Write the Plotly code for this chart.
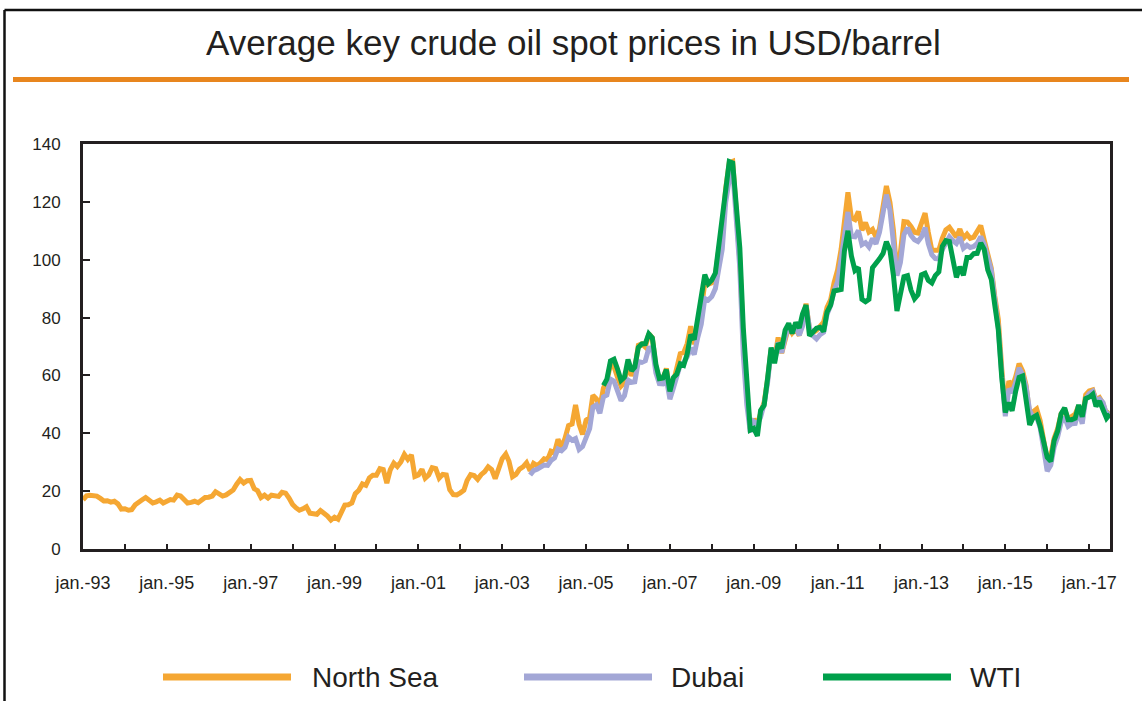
import pandas as pd
import plotly.graph_objects as go

# ---------------- data (monthly averages, USD/barrel) ----------------
series_names = ["North Sea", "Dubai", "WTI"]
series_colors = ["#F5A733", "#A3A7D6", "#00A04B"]

north_sea_start = "1993-01-01"
north_sea = [
    17.0, 18.4, 18.6, 18.6, 18.3, 17.5, 16.6, 16.7, 16.2, 16.5, 15.6, 13.8,
    13.9, 13.4, 13.6, 15.3, 16.4, 17.0, 17.8, 16.8, 15.9, 16.3, 16.9, 15.9,
    16.6, 17.1, 16.9, 18.6, 18.3, 17.2, 15.9, 16.1, 16.5, 16.0, 16.8, 17.8,
    17.9, 18.3, 19.8, 19.2, 18.3, 18.7, 19.6, 20.4, 22.4, 24.0, 22.8, 23.6,
    23.7, 20.8, 20.2, 17.8, 18.6, 17.6, 18.6, 18.4, 18.2, 19.6, 19.3, 17.6,
    15.4, 14.2, 13.4, 13.9, 14.6, 12.4, 12.2, 12.0, 13.3, 12.6, 11.4, 10.0,
    11.0, 10.3, 12.5, 15.2, 15.3, 15.9, 19.1, 20.3, 22.5, 22.0, 24.6, 25.5,
    25.5, 27.8, 27.5, 22.8, 27.4, 29.7, 28.5, 30.1, 32.7, 31.0, 32.5, 25.1,
    25.6, 27.5, 24.5, 25.6, 28.1, 27.8, 24.5, 25.8, 25.6, 20.5, 18.8, 18.7,
    19.4, 20.3, 23.7, 25.7, 25.4, 24.1, 25.7, 26.7, 28.4, 27.5, 24.3, 28.2,
    31.2, 32.8, 30.3, 25.0, 25.8, 27.6, 28.4, 29.8, 27.1, 29.6, 28.8, 29.8,
    31.2, 30.9, 33.8, 33.4, 37.9, 35.2, 38.2, 42.7, 43.2, 49.8, 43.1, 39.6,
    44.5, 45.5, 53.1, 51.9, 49.0, 55.6, 57.9, 63.9, 63.0, 59.4, 56.3, 57.6,
    63.9, 59.9, 62.3, 70.4, 70.9, 69.8, 74.4, 73.0, 62.8, 58.5, 58.9, 62.4,
    54.6, 57.8, 62.4, 67.5, 67.9, 71.0, 77.0, 70.8, 77.0, 82.5, 92.1, 91.5,
    92.0, 94.8, 103.3, 110.4, 124.6, 133.5, 134.0, 114.6, 99.6, 72.8, 53.2, 41.6,
    44.9, 43.2, 46.8, 50.8, 58.6, 69.3, 65.8, 73.1, 67.7, 73.2, 77.0, 74.7,
    76.2, 73.8, 78.8, 84.8, 75.9, 74.8, 75.6, 77.1, 78.4, 83.5, 86.1, 92.0,
    96.5, 103.7, 114.6, 123.3, 114.5, 113.9, 116.7, 110.2, 112.8, 109.6, 110.5, 107.9,
    110.7, 119.3, 125.5, 119.8, 110.3, 95.2, 102.6, 113.2, 113.0, 111.5, 109.5, 109.2,
    112.3, 116.1, 109.5, 103.3, 103.3, 103.3, 107.4, 110.3, 111.2, 109.5, 107.8, 110.6,
    107.4, 108.8, 107.4, 107.8, 109.7, 111.8, 106.8, 101.6, 97.1, 87.4, 79.4, 62.3,
    47.8, 58.1, 55.9, 59.5, 64.1, 61.5, 56.6, 46.5, 47.6, 48.4, 44.3, 38.0,
    30.7, 32.2, 38.2, 41.6, 46.7, 48.3, 44.9, 45.8, 46.6, 49.5, 44.7, 53.3,
    54.6, 55.0, 51.6, 52.3, 50.3, 46.4, 47.5,
]

dubai_start = "2003-09-01"
dubai = [
    25.6, 27.1, 27.6, 28.1,
    29.0, 28.9, 30.6, 31.5, 34.6, 34.0, 35.1, 38.7, 37.6, 38.2, 34.4, 35.4,
    39.0, 41.6, 49.1, 49.8, 46.9, 52.6, 53.2, 58.7, 58.0, 54.4, 51.3, 53.0,
    58.4, 57.6, 57.8, 64.8, 64.5, 65.1, 69.4, 69.6, 60.9, 57.2, 57.1, 58.9,
    51.8, 55.7, 59.0, 63.7, 64.4, 66.5, 69.5, 67.2, 73.2, 77.7, 86.6, 86.1,
    87.3, 90.0, 96.7, 103.6, 119.8, 127.8, 131.2, 113.2, 96.9, 67.3, 49.9, 40.5,
    44.1, 43.1, 45.6, 50.1, 57.5, 68.9, 65.0, 71.4, 67.9, 73.1, 76.9, 75.4,
    76.7, 73.9, 77.0, 84.0, 76.5, 73.7, 72.6, 74.1, 74.9, 81.1, 84.2, 89.2,
    92.4, 100.4, 108.8, 116.5, 108.1, 107.9, 110.1, 105.2, 105.9, 104.4, 107.3, 105.5,
    109.5, 116.2, 122.5, 117.1, 107.5, 94.5, 99.0, 108.7, 111.0, 108.4, 106.9, 106.3,
    107.9, 111.1, 105.6, 101.7, 100.4, 100.3, 103.5, 106.2, 107.9, 106.6, 105.6, 107.8,
    104.0, 105.0, 104.2, 104.6, 105.6, 108.0, 105.3, 100.8, 96.3, 86.4, 76.4, 60.2,
    45.9, 55.4, 54.0, 57.5, 62.6, 60.2, 56.0, 47.8, 45.4, 45.7, 41.8, 34.6,
    26.9, 29.0, 35.2, 38.8, 43.8, 45.5, 42.4, 43.3, 43.4, 47.9, 43.3, 51.9,
    53.7, 54.5, 51.4, 51.9, 50.6, 46.5, 47.0,
]

wti_start = "2005-06-01"
wti = [
    56.5, 58.7, 65.0, 65.6, 62.3, 58.3, 59.4,
    65.5, 61.6, 62.9, 69.7, 70.9, 71.0, 74.4, 73.0, 63.8, 58.9, 59.1, 62.0,
    54.5, 59.3, 60.4, 64.0, 63.5, 67.5, 74.1, 72.4, 79.9, 85.8, 94.8, 91.7,
    93.0, 95.4, 105.5, 112.6, 125.4, 133.9, 133.4, 116.7, 104.1, 76.6, 57.3, 41.1,
    41.7, 39.1, 47.9, 49.7, 59.0, 69.6, 64.2, 71.1, 69.4, 75.7, 78.0, 74.5,
    78.3, 76.4, 81.2, 84.3, 73.7, 75.3, 76.3, 76.6, 75.2, 81.9, 84.3, 89.2,
    89.6, 89.7, 102.9, 110.0, 101.3, 96.3, 97.3, 86.3, 85.5, 86.3, 97.2, 98.6,
    100.3, 102.2, 106.2, 103.3, 94.7, 82.3, 87.9, 94.1, 94.5, 89.5, 86.5, 87.9,
    94.8, 95.3, 92.9, 92.0, 94.5, 95.8, 104.6, 106.6, 106.3, 100.5, 93.9, 97.6,
    94.6, 100.8, 100.8, 102.1, 102.2, 105.8, 103.6, 96.5, 93.2, 84.4, 75.8, 59.3,
    47.2, 50.6, 47.8, 54.5, 59.3, 59.8, 50.9, 42.9, 45.5, 46.2, 42.4, 37.2,
    31.7, 30.3, 37.5, 40.8, 46.7, 48.8, 44.7, 44.7, 45.2, 49.8, 45.7, 52.0,
    52.5, 53.5, 49.3, 51.1, 48.5, 45.2, 46.6,
]

tick_years = list(range(1993, 2018))
tick_labels = [f"jan.-{y % 100:02d}" if (y - 1993) % 2 == 0 else "" for y in tick_years]
y_ticks = [0, 20, 40, 60, 80, 100, 120, 140]
title_text = "Average key crude oil spot prices in USD/barrel"

# ---------------- figure ----------------
W, H = 1142, 701
L, R, T, B = 83, 32, 144, 152
PW, PH = W - L - R, H - T - B

def px(x):
    return (x - L) / PW

def py(y):
    return (H - B - y) / PH

FONT = "Liberation Sans Narrow, Arial Narrow, Liberation Sans, Arial, sans-serif"
INK = "#231F20"

fig = go.Figure()
starts = [north_sea_start, dubai_start, wti_start]
values = [north_sea, dubai, wti]
for name, color, start, vals in zip(series_names, series_colors, starts, values):
    dates = pd.date_range(start, periods=len(vals), freq="MS")
    fig.add_trace(go.Scatter(
        x=dates, y=vals, mode="lines", name=name,
        line=dict(color=color, width=5), showlegend=False,
    ))

fig.update_xaxes(
    type="date", automargin=False,
    range=["1993-01-01", "2017-07-01"],
    tickvals=[f"{y}-01-01" for y in tick_years],
    ticktext=tick_labels,
    ticks="inside", ticklen=5, tickwidth=2, tickcolor=INK,
    showline=True, linewidth=3, linecolor=INK, mirror=True,
    showgrid=False, zeroline=False,
    tickfont=dict(family=FONT, size=18, color=INK),
    ticklabelstandoff=15,
)
fig.update_yaxes(
    range=[0, 140], automargin=False,
    tickvals=y_ticks,
    ticks="inside", ticklen=7, tickwidth=2, tickcolor=INK,
    showline=True, linewidth=3, linecolor=INK, mirror=True,
    showgrid=False, zeroline=False,
    tickfont=dict(family=FONT, size=17, color=INK),
    ticklabelstandoff=16,
)

shapes = [
    # outer frame (left and top edges)
    dict(type="line", xref="paper", yref="paper", x0=px(4.5), x1=px(4.5), y0=py(10), y1=py(705),
         line=dict(color="#111111", width=2.5)),
    dict(type="line", xref="paper", yref="paper", x0=px(4.5), x1=px(1146), y0=py(10), y1=py(10),
         line=dict(color="#111111", width=2.5)),
    # orange rule under title
    dict(type="rect", xref="paper", yref="paper", x0=px(13), x1=px(1129), y0=py(77), y1=py(82),
         fillcolor="#E8861E", line=dict(width=0)),
]
annotations = [
    dict(text=title_text, xref="paper", yref="paper", x=px(573), y=py(42),
         xanchor="center", yanchor="middle", showarrow=False,
         font=dict(family=FONT, size=35, color=INK)),
]
legend_x = [(163, 291, 310), (524, 652, 669), (823, 951, 968)]
for (x0, x1, tx), name, color in zip(legend_x, series_names, series_colors):
    shapes.append(dict(type="line", xref="paper", yref="paper", x0=px(x0), x1=px(x1),
                       y0=py(677), y1=py(677), line=dict(color=color, width=7)))
    annotations.append(dict(text=name, xref="paper", yref="paper", x=px(tx), y=py(677),
                            xanchor="left", yanchor="middle", showarrow=False,
                            font=dict(family=FONT, size=28, color=INK)))

fig.update_layout(
    width=W, height=H,
    margin=dict(l=L, r=R, t=T, b=B, autoexpand=False),
    paper_bgcolor="white", plot_bgcolor="white",
    shapes=shapes, annotations=annotations,
    showlegend=False,
)

fig.write_html(
    "out.html",
    config={"displayModeBar": False},
    post_script="document.body.style.margin='0px';document.body.style.overflow='hidden';",
)
